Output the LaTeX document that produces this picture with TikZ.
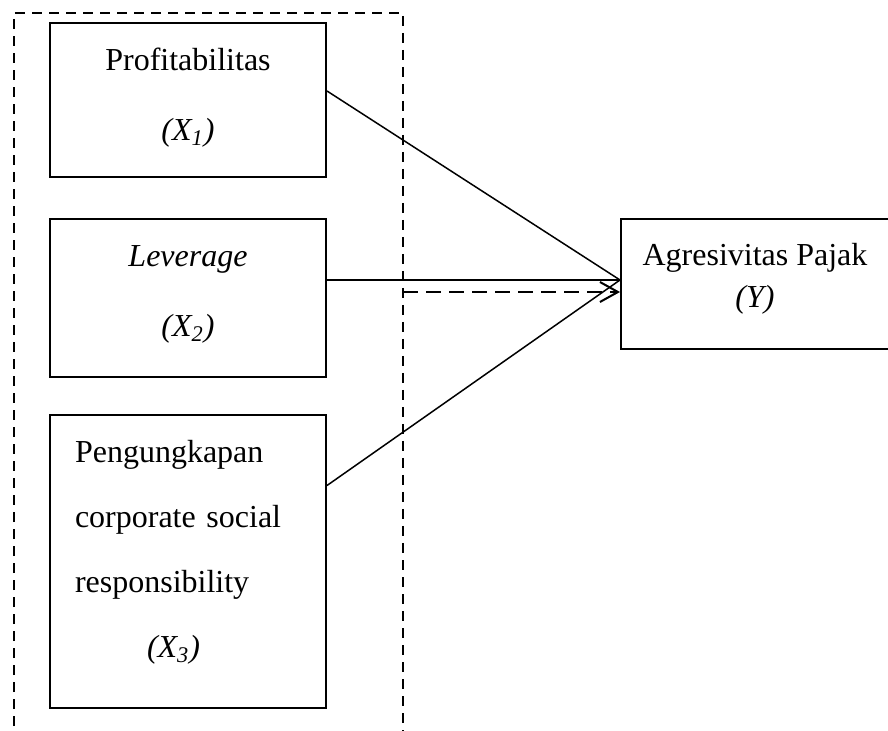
\documentclass[tikz,border=0pt]{standalone}
\usepackage{fontspec}
\setmainfont{Liberation Serif}
\usetikzlibrary{arrows.meta}

\begin{document}
\begin{tikzpicture}[x=0.5pt, y=-0.5pt,
    varbox/.style={draw, line width=1pt, rectangle, inner sep=0pt, minimum width=138pt, align=center},
    link/.style={line width=0.75pt},
    frame/.style={line width=0.6pt, dash pattern=on 5pt off 3.5pt}]
  \useasboundingbox (0,0) rectangle (888,731);
  \draw[frame] (14,760) -- (14,13) -- (403,13) -- (403,760);

  \node[varbox, minimum height=77pt, text depth=6pt, font=\fontsize{16pt}{35pt}\selectfont] (prof) at (188,100) {Profitabilitas\\\textit{(X\textsubscript{1})}};
  \node[varbox, minimum height=79pt, text depth=7pt, font=\fontsize{16pt}{35pt}\selectfont] (lev) at (188,298) {\textit{Leverage}\\\textit{(X\textsubscript{2})}};
  \node[varbox, minimum height=146.5pt, align=left, text width=113pt, inner xsep=12.5pt, text depth=110pt, font=\fontsize{16pt}{32.5pt}\selectfont] (csr) at (188,561.5) {Pengungkapan\\corporate social\\responsibility\\\hspace*{36pt}\textit{(X\textsubscript{3})}};
  \node[varbox, minimum width=134pt, minimum height=65pt, text depth=8.5pt, font=\fontsize{16pt}{21pt}\selectfont] (tax) at (755,284) {Agresivitas Pajak\\\textit{(Y)}};

  \coordinate (hub) at ([yshift=2pt]tax.west);
  \coordinate (gate) at (403,292);

  \draw[link] ([yshift=4.5pt]prof.east) -- (hub);
  \draw[link, line width=1pt] ([yshift=9pt]lev.east) -- (hub);
  \draw[link] ([yshift=38pt]csr.east) -- (hub);
  \draw[line width=1pt, dash pattern=on 7.5pt off 4pt, -{Straight Barb[length=9pt,width=10pt]}] (gate) -- ([yshift=-4pt]tax.west);
\end{tikzpicture}
\end{document}
